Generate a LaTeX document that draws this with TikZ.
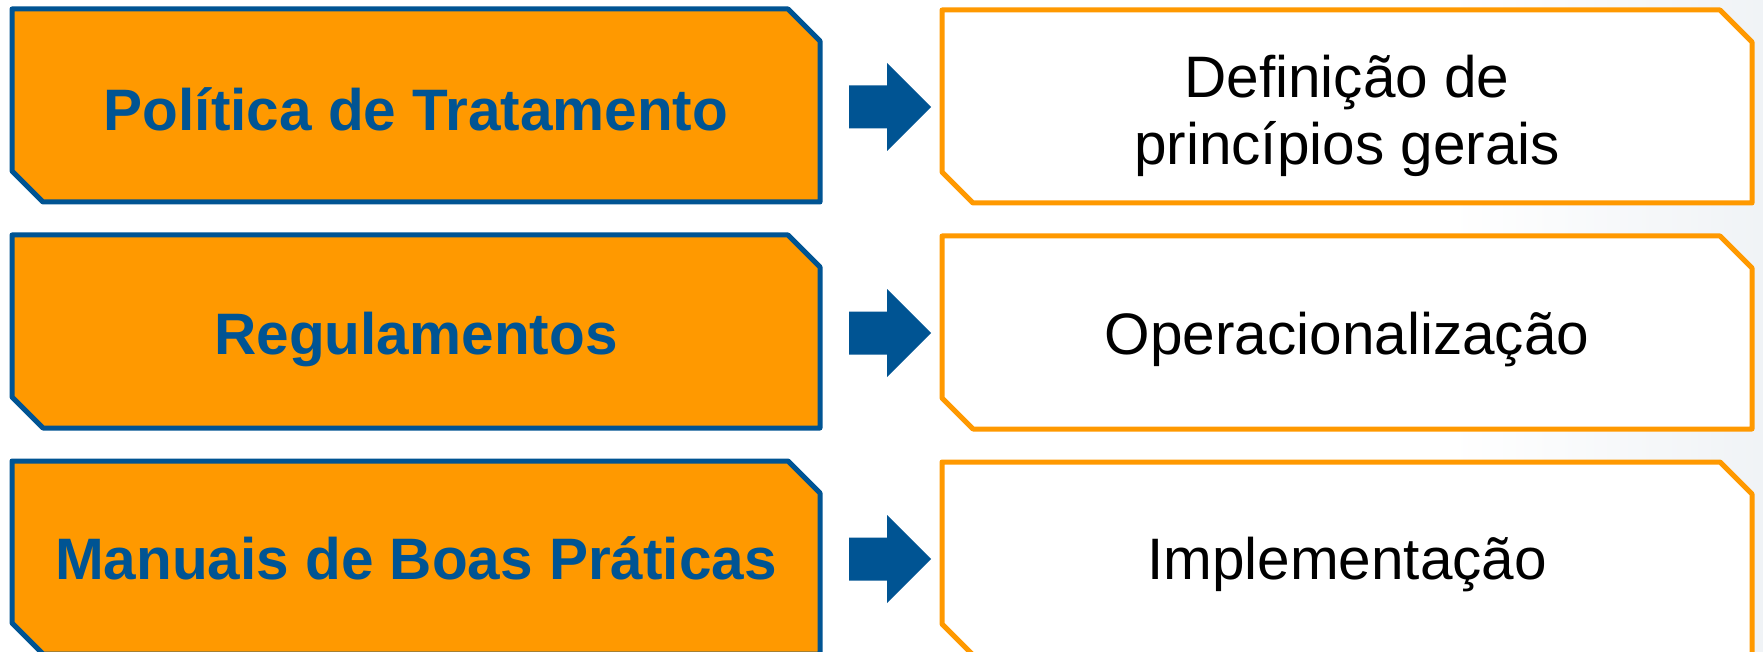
\documentclass[tikz,border=0pt]{standalone}
\usepackage{fontspec}
\setmainfont{Liberation Sans}
\definecolor{orng}{RGB}{255,153,0}
\definecolor{blu}{RGB}{0,84,147}
\definecolor{bgfade}{RGB}{240,243,246}
\begin{document}
\begin{tikzpicture}[x=1pt,y=-1pt,
  leftbox/.style={fill=orng,draw=blu,line width=5pt,line join=round},
  rightbox/.style={fill=white,draw=orng,line width=5pt,line join=round},
  lefttext/.style={font=\fontsize{58.5}{67}\selectfont\bfseries,text=blu,align=center,inner sep=0pt},
  righttext/.style={font=\fontsize{58.5}{67}\selectfont,text=black,align=center,inner sep=0pt},
  blockarrow/.style={fill=blu}]
\useasboundingbox (0,0) rectangle (1763,652);
\fill[white] (0,0) rectangle (1763,652);
\shade[left color=white,right color=bgfade] (1450,0) rectangle (1763,652);
\newcommand\rowshapes[1]{%
  \pgfmathsetmacro\rtop{#1}%
  \pgfmathsetmacro\rbot{#1+193}%
  \pgfmathsetmacro\amid{#1+98}%
  \draw[leftbox] (12,\rtop) -- (788,\rtop) -- (820,\rtop+32) -- (820,\rbot) -- (43,\rbot) -- (12,\rbot-31) -- cycle;
  \draw[rightbox] (942,\rtop+1) -- (1720,\rtop+1) -- (1752,\rtop+33) -- (1752,\rbot+1) -- (973,\rbot+1) -- (942,\rbot-30) -- cycle;
  \fill[blockarrow] (849,\amid-21.5) -- (887,\amid-21.5) -- (887,\amid-44) -- (931,\amid) -- (887,\amid+44) -- (887,\amid+21.5) -- (849,\amid+21.5) -- cycle;
}
\rowshapes{9}
\rowshapes{235}
\rowshapes{461}
\node[lefttext,anchor=base] (L1) at (416,131) {Política de Tratamento};
\node[righttext] (R1) at (1347,116) {Definição de\\princípios gerais};
\node[lefttext,anchor=base] (L2) at (416,354) {Regulamentos};
\node[righttext,anchor=base] (R2) at (1347,354) {Operacionalização};
\node[lefttext,anchor=base] (L3) at (416,579) {Manuais de Boas Práticas};
\node[righttext,anchor=base] (R3) at (1347,579) {Implementação};
\end{tikzpicture}
\end{document}
